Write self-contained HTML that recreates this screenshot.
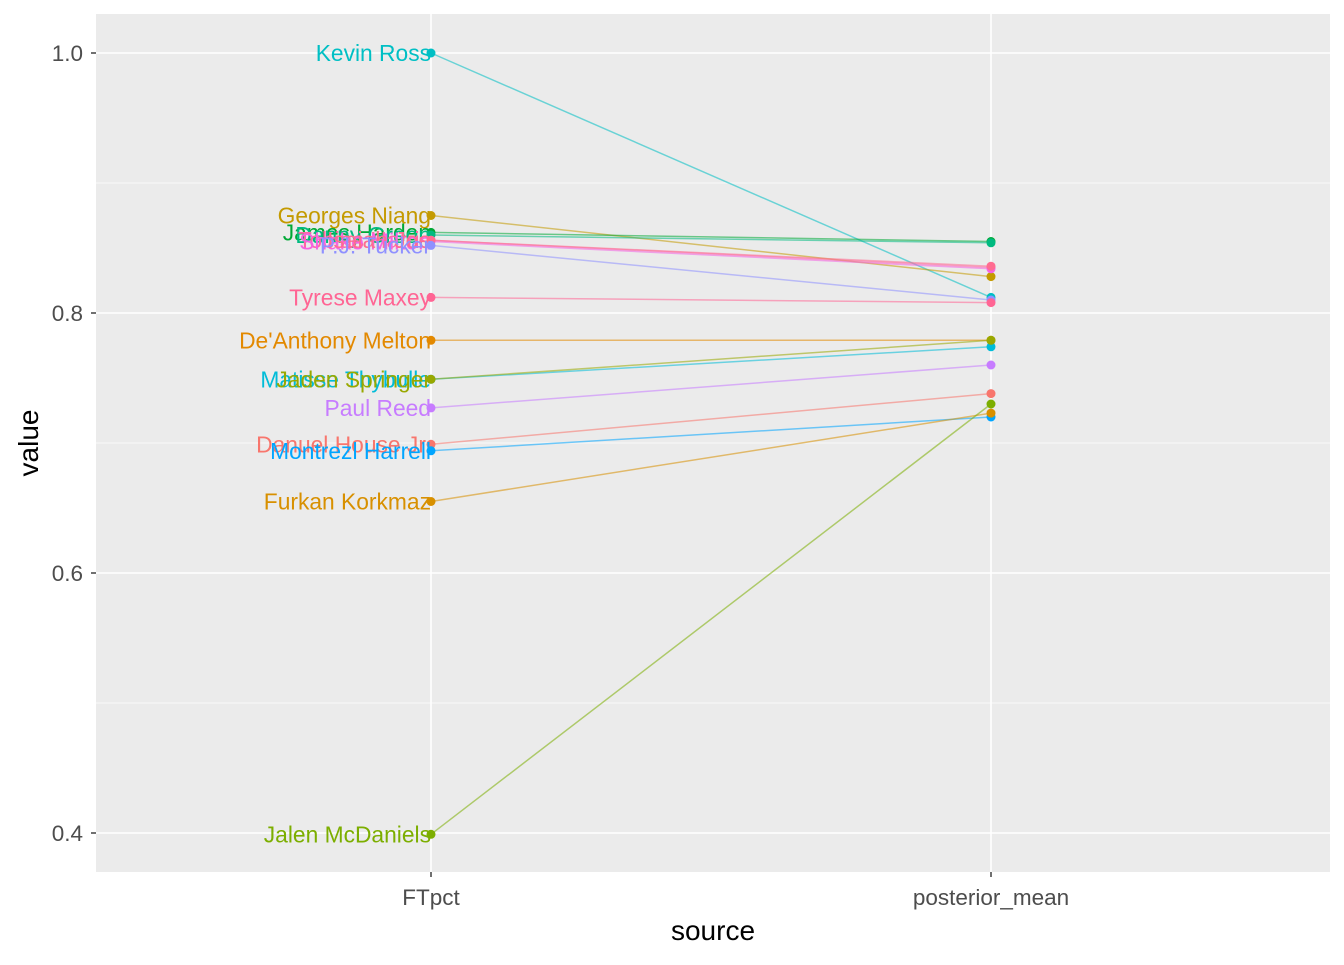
<!DOCTYPE html>
<html><head><meta charset="utf-8"><style>
body{margin:0;background:#fff;}
svg{font-family:"Liberation Sans",Arial,sans-serif;}
</style></head><body>
<svg id="chart" width="1344" height="960"></svg>
<script>
const names=["Kevin Ross","Georges Niang","James Harden","Danny Green","Tobias Harris","Shake Milton","Isaiah Joe","P.J. Tucker","Tyrese Maxey","De'Anthony Melton","Matisse Thybulle","Jaden Springer","Paul Reed","Danuel House Jr.","Montrezl Harrell","Furkan Korkmaz","Jalen McDaniels"];
const ftpct=[1.0,0.875,0.862,0.860,0.856,0.855,0.856,0.852,0.812,0.779,0.749,0.749,0.727,0.699,0.694,0.655,0.399];
const posterior=[0.812,0.828,0.855,0.854,0.835,0.834,0.836,0.810,0.808,0.779,0.774,0.779,0.760,0.738,0.720,0.723,0.730];
const colors=["#00BFC4","#C49A00","#00A835","#00BA80","#FF66A8","#F464E3","#FF6C91","#8F91FF","#FF6594","#E38900","#00BCD8","#99A800","#C77CFF","#F8766D","#00A5FF","#D89000","#7CAE00"];
const yTicks=[0.4,0.6,0.8,1.0];
const xCats=["FTpct","posterior_mean"];
const NS="http://www.w3.org/2000/svg";
const svg=document.getElementById('chart');
const L=96,R=1330,T=14,B=872;
const y=v=>53+(1-v)*1300;
const xs=[431,991];
function mk(t,a,p){const e=document.createElementNS(NS,t);for(const k in a)e.setAttribute(k,a[k]);(p||svg).appendChild(e);return e;}
const bg=mk('rect',{x:L,y:T,width:R-L,height:B-T,fill:'#EBEBEB'});


for(let i=0;i<yTicks.length-1;i++){const m=(yTicks[i]+yTicks[i+1])/2;mk('line',{x1:L,x2:R,y1:y(m),y2:y(m),stroke:'#fff','stroke-width':0.8});}
yTicks.forEach(v=>{
 mk('line',{x1:L,x2:R,y1:y(v),y2:y(v),stroke:'#fff','stroke-width':1.6});
 mk('line',{x1:L-5,x2:L,y1:y(v),y2:y(v),stroke:'#333','stroke-width':1.4});
 const t=mk('text',{x:L-13,y:y(v)+8,'text-anchor':'end','font-size':22.5,fill:'#4D4D4D'});t.textContent=v.toFixed(1);
 
 
});
xCats.forEach((c,i)=>{
 mk('line',{x1:xs[i],x2:xs[i],y1:T,y2:B,stroke:'#fff','stroke-width':1.6});
 mk('line',{x1:xs[i],x2:xs[i],y1:B,y2:B+5,stroke:'#333','stroke-width':1.4});
 const t=mk('text',{x:xs[i],y:905,'text-anchor':'middle','font-size':22.5,fill:'#4D4D4D'});t.textContent=c;
 
 
});
names.forEach((n,i)=>{
 const g=mk('g',{});
 
 
 mk('line',{x1:xs[0],y1:y(ftpct[i]),x2:xs[1],y2:y(posterior[i]),stroke:colors[i],'stroke-width':1.5,opacity:0.55},g);
 mk('circle',{cx:xs[0],cy:y(ftpct[i]),r:4.5,fill:colors[i]},g);
 mk('circle',{cx:xs[1],cy:y(posterior[i]),r:4.5,fill:colors[i]},g);
 const t=mk('text',{x:xs[0],y:y(ftpct[i])+8,'text-anchor':'end','font-size':22.8,fill:colors[i]},g);t.textContent=n;
 
 
});
const xt=mk('text',{x:(L+R)/2,y:940,'text-anchor':'middle','font-size':28,fill:'#000'});xt.textContent='source';


const yt=mk('text',{x:38,y:443,'text-anchor':'middle','font-size':28,fill:'#000',transform:'rotate(-90 38 443)'});yt.textContent='value';


</script>
</body></html>
